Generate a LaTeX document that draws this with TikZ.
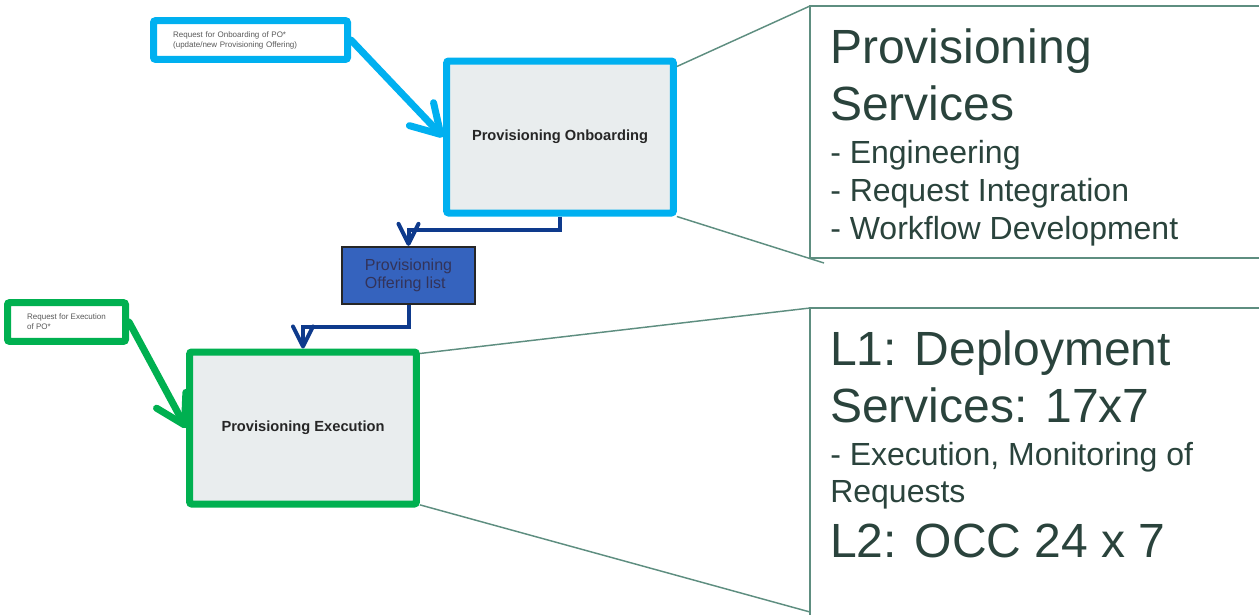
\documentclass[tikz,border=0pt]{standalone}
\usepackage{fontspec}
\setmainfont{Liberation Sans}
\usetikzlibrary{arrows.meta}
\definecolor{pocyan}{HTML}{00B0F0}
\definecolor{pogreen}{HTML}{00B050}
\definecolor{pobox}{HTML}{E9EDEE}
\definecolor{polist}{HTML}{3563BE}
\definecolor{podark}{HTML}{0E3A8C}
\definecolor{poline}{HTML}{5E8E80}
\definecolor{potext}{HTML}{2A433C}
\begin{document}
\begin{tikzpicture}[x=0.75pt,y=-0.75pt]
\tikzstyle{req}=[draw, line width=5.25pt, rounded corners=1.5pt, fill=white, font=\fontsize{6}{7.5}\selectfont, text=black!65, align=left, minimum height=29pt]
\tikzstyle{stage}=[draw, line width=5.25pt, rounded corners=1.5pt, fill=pobox, font=\bfseries\fontsize{11}{13}\selectfont, text=black!85, minimum width=170pt, minimum height=114pt]
\tikzstyle{feed}=[line width=5.25pt, line cap=round, -{Straight Barb[length=21pt,width=25pt,round]}]
\tikzstyle{link}=[podark, line width=3pt, -{Straight Barb[length=15pt,width=15pt,round]}]
\tikzstyle{callout}=[poline, line width=1.1pt]
\tikzstyle{calbig}=[anchor=base west, inner sep=0pt, text=potext, align=left, font=\fontsize{36}{42.75}\selectfont]
\tikzstyle{callist}=[anchor=base west, inner sep=0pt, text=potext, align=left, font=\fontsize{24}{28.5}\selectfont]
\useasboundingbox (0,0) rectangle (1259,614);
% callout frames
\coordinate (svctop) at (810,6);
\coordinate (svcbot) at (810,258);
\coordinate (svcend) at (824,263);
\coordinate (l1top) at (810,308);
\coordinate (l1bot) at (810,612);
\coordinate (l1end) at (810,616);
\draw[callout] (1270,6) -- (svctop) -- (svcbot) -- (1270,258);
\draw[callout] (1270,308) -- (l1top) -- (l1end);
% boxes
\node[req, draw=pocyan, minimum width=145.5pt, text width=116pt, inner xsep=14.7pt] (reqon) at (250.5,40) {Request for Onboarding of PO*\\(update/new Provisioning Offering)};
\node[stage, draw=pocyan] (onb) at (560,137) {Provisioning Onboarding};
\node[draw=black!85, line width=1.5pt, fill=polist, text=black!75!blue!60!gray, align=left, font=\fontsize{12}{13.5}\selectfont, minimum width=99.75pt, minimum height=43pt] (pol) at (408.5,275.5) {Provisioning\\Offering list};
\node[stage, draw=pogreen] (exe) at (303,428) {Provisioning Execution};
\node[req, draw=pogreen, minimum width=88.5pt] (reqex) at (66.5,322) {Request for Execution\\of PO*};
% arrows
\draw[feed, pocyan] (reqon.east) -- (onb.west);
\draw[feed, pogreen] (reqex.east) -- (exe.west);
\draw[link] (onb.south) -- ++(0,13) -| (pol.north);
\draw[link] (pol.south) -- ++(0,22) -| (exe.north);
% callout lines
\draw[callout] ([yshift=-6.75pt]onb.north east) -- (svctop);
\draw[callout] (onb.south east) -- (svcend);
\draw[callout] ([yshift=-3.75pt]exe.north east) -- (l1top);
\draw[callout] ([yshift=2pt]exe.south east) -- (l1bot);
% callout texts (base = last line)
\node[calbig] (svchead) at (830,120) {Provisioning\\Services};
\node[callist] (svclist) at (830,239) {- Engineering\\- Request Integration\\- Workflow Development};
\node[calbig] (l1head) at (830,422) {L1: Deployment\\Services: 17x7};
\node[callist, font=\fontsize{24}{27.75}\selectfont] (l1list) at (830,502) {- Execution, Monitoring of\\Requests};
\node[calbig] (l2head) at (830,557) {L2: OCC 24 x 7};
\end{tikzpicture}
\end{document}
